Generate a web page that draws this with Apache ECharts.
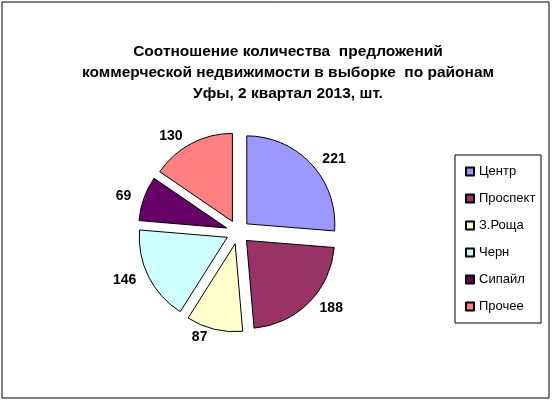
<!DOCTYPE html>
<html><head><meta charset="utf-8">
<script src="https://cdn.jsdelivr.net/npm/echarts@6/dist/echarts.min.js"></script>
<style>html,body{margin:0;padding:0;background:#fff}#c{width:552px;height:401px}</style>
</head><body><div id="c"></div>
<script>
var categories=["Центр","Проспект","З.Роща","Черн","Сипайл","Прочее"];
var values=[221,188,87,146,69,130];
var colors=["#9999FF","#993366","#FFFFCC","#CCFFFF","#660066","#FF8080"];
var chart=echarts.init(document.getElementById('c'));
chart.setOption({
  animation:false,
  graphic:[{type:'rect',shape:{x:2,y:2,width:547,height:396},style:{fill:'none',stroke:'#000',lineWidth:1}},
           {type:'rect',shape:{x:455,y:155,width:86,height:168},style:{fill:'#fff',stroke:'#000',lineWidth:1},z:-1}],
  title:{text:'Соотношение количества  предложений\nкоммерческой недвижимости в выборке  по районам\nУфы, 2 квартал 2013, шт.',
    left:283,top:36,textAlign:'center',textStyle:{fontFamily:'Arial',fontSize:15.5,fontWeight:'bold',color:'#000',lineHeight:21}},
  legend:{orient:'vertical',left:460,top:160,itemWidth:8,itemHeight:8,itemGap:14,icon:'rect',
    textStyle:{fontFamily:'Arial',fontSize:13,color:'#000'},data:categories},
  series:[{type:'pie',center:[238,232],radius:[0,88],startAngle:90,clockwise:true,
    selectedMode:'multiple',selectedOffset:12,
    label:{show:true,position:'outside',formatter:'{c}',fontFamily:'Arial',fontSize:14,fontWeight:'bold',color:'#000'},
    labelLine:{show:false,length:8,length2:0},
    itemStyle:{borderColor:'#000',borderWidth:1},
    emphasis:{disabled:true},
    data:categories.map(function(n,i){return {name:n,value:values[i],selected:true,itemStyle:{color:colors[i]}};})
  }]
});
</script></body></html>
